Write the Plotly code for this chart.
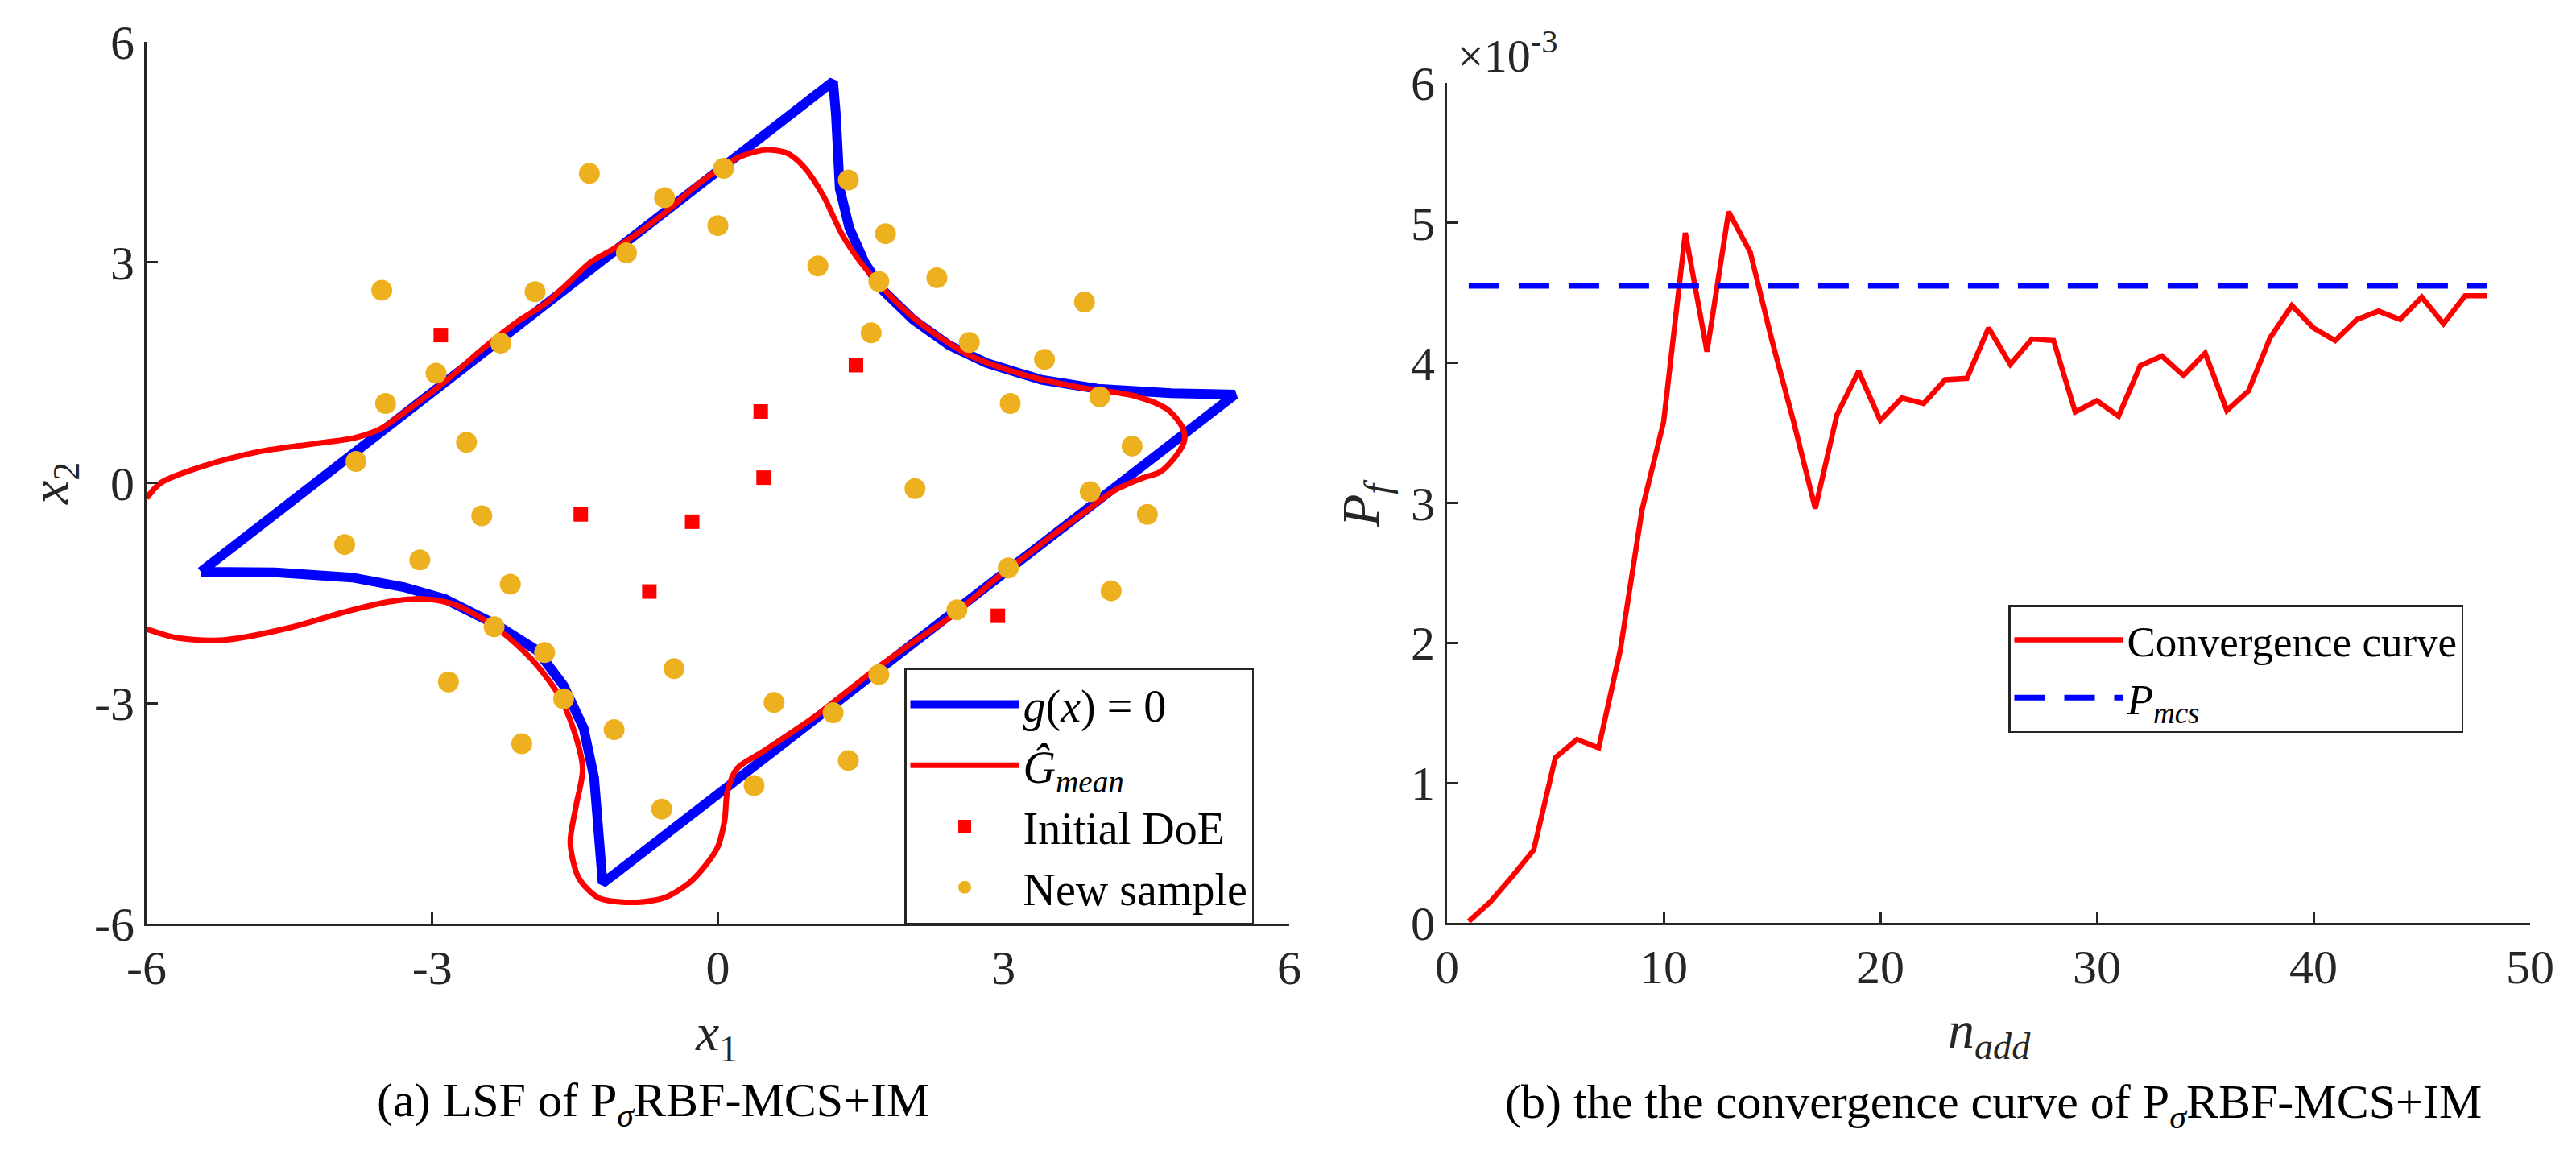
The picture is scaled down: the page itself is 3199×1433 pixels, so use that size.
import plotly.graph_objects as go

# ---------------- (a) LSF panel data ----------------
# true limit state g(x)=0 (closed contour)
g_x1 = [-5.43, 1.21, 1.24, 1.25, 1.28, 1.38, 1.54, 1.74, 2.05, 2.43, 2.82, 3.40, 3.99, 4.76, 5.43,
        -1.21, -1.25, -1.30, -1.41, -1.62, -1.90, -2.33, -2.87, -3.30, -3.84, -4.65, -5.43]
g_x2 = [-1.21, 5.46, 5.00, 4.50, 4.00, 3.47, 3.00, 2.61, 2.22, 1.87, 1.63, 1.40, 1.28, 1.22, 1.20,
        -5.45, -4.78, -4.01, -3.34, -2.76, -2.28, -1.93, -1.58, -1.42, -1.29, -1.22, -1.21]

# surrogate mean contour G_mean = 0
gm_x1 = [-6.00, -5.85, -5.42, -4.83, -4.25, -3.82, -3.55, -3.28, -2.89, -2.50, -2.12, -1.80, -1.53,
         -1.34, -1.02, -0.56, -0.25, 0.00, 0.22, 0.49, 0.72, 0.91, 1.11, 1.30, 1.50, 1.73, 2.08,
         2.62, 3.21, 3.79, 4.38, 4.72, 4.88, 4.90, 4.82, 4.65, 4.45, 4.17, 3.85, 3.55, 3.25, 3.00,
         2.46, 2.05, 1.67, 1.02, 0.47, 0.20, 0.10, 0.07, -0.01, -0.28, -0.55, -0.85, -1.25, -1.46,
         -1.55, -1.49, -1.42, -1.52, -1.68, -1.95, -2.33, -2.76, -3.09, -3.46, -3.95, -4.49, -5.19,
         -5.68, -6.00]
gm_x2 = [-0.21, 0.00, 0.22, 0.42, 0.53, 0.61, 0.73, 0.97, 1.35, 1.79, 2.18, 2.45, 2.77,
         3.00, 3.24, 3.67, 4.02, 4.26, 4.43, 4.53, 4.49, 4.29, 3.90, 3.39, 3.00, 2.65, 2.22,
         1.75, 1.47, 1.30, 1.18, 1.00, 0.75, 0.58, 0.38, 0.15, 0.06, -0.10, -0.40, -0.68, -0.98, -1.22,
         -1.81, -2.17, -2.52, -3.18, -3.66, -3.89, -4.20, -4.60, -4.98, -5.42, -5.64, -5.71, -5.65, -5.38,
         -4.90, -4.40, -3.89, -3.34, -2.87, -2.41, -1.97, -1.66, -1.58, -1.62, -1.77, -1.97, -2.14,
         -2.11, -1.99]

# initial design of experiments
doe_x1 = [-2.91, 1.45, 0.45, 0.48, -1.44, -0.27, -0.72, 2.94]
doe_x2 = [2.01, 1.60, 0.97, 0.07, -0.43, -0.53, -1.48, -1.81]

# adaptively added samples
new_x1 = [-1.35, -0.56, 0.06, 0.00, -0.96, -1.92, -3.53, -2.28, -2.96, -3.49, -2.64, -3.80,
          -2.48, -3.92, -3.13, -2.18, -2.35, -1.82, -2.83, -0.46, -1.62, 0.59, -1.09, -2.06,
          1.21, 1.37, 0.38, -0.59, 1.37, 1.76, 1.05, 1.69, 2.30, 1.61, 2.64, 3.85, 3.43, 3.07,
          4.01, 4.35, 2.07, 3.91, 4.51, 3.05, 4.13, 2.51, 1.69]
new_x2 = [4.21, 3.88, 4.28, 3.50, 3.13, 2.60, 2.62, 1.90, 1.49, 1.08, 0.55, 0.29,
          -0.45, -0.84, -1.05, -1.38, -1.96, -2.31, -2.71, -2.53, -2.94, -2.99, -3.36, -3.55,
          -3.13, -3.78, -4.12, -4.44, 4.12, 3.39, 2.95, 2.74, 2.79, 2.04, 1.91, 2.46, 1.68, 1.08,
          1.17, 0.50, -0.08, -0.12, -0.43, -1.16, -1.47, -1.73, -2.61]

ax_ticks_a = [-6, -3, 0, 3, 6]
ax_ticklabels_a = ["-6", "-3", "0", "3", "6"]

# ---------------- (b) convergence panel data ----------------
n_add = [1, 2, 3, 4, 5, 6, 7, 8, 9, 10, 11, 12, 13, 14, 15, 16, 17, 18, 19, 20, 21, 22, 23, 24,
         25, 26, 27, 28, 29, 30, 31, 32, 33, 34, 35, 36, 37, 38, 39, 40, 41, 42, 43, 44, 45, 46, 47, 48]
pf_e3 = [0.01, 0.15, 0.33, 0.52, 1.18, 1.31, 1.25, 1.95, 2.95, 3.58, 4.93, 4.08, 5.08, 4.79, 4.16, 3.58,
         2.96, 3.63, 3.94, 3.59, 3.75, 3.71, 3.88, 3.89, 4.25, 3.99, 4.17, 4.16, 3.65, 3.73, 3.62, 3.98,
         4.05, 3.91, 4.07, 3.66, 3.80, 4.18, 4.41, 4.25, 4.16, 4.31, 4.37, 4.31, 4.47, 4.28, 4.48, 4.48]
pmcs_x = [1, 48]
pmcs_e3 = [4.55, 4.55]

x_ticks_b = [0, 10, 20, 30, 40, 50]
y_ticks_b = [0, 1, 2, 3, 4, 5, 6]

# ---------------- styling ----------------
OFF = 8                      # default page body margin
W, H = 3199 - OFF, 1433 - OFF


def px(X):
    return (X - OFF) / W


def py(Y):
    return 1 - (Y - OFF) / H


SERIF = "Liberation Serif, Times New Roman, serif"
AX = "#262626"
BLUE = "#0000FF"
RED = "#FF0000"
ORANGE = "#EDB120"

fig = go.Figure()

fig.add_trace(go.Scatter(x=g_x1, y=g_x2, mode="lines", line=dict(color=BLUE, width=12),
                         name="<i>g</i>(<i>x</i>) = 0", xaxis="x", yaxis="y", legend="legend"))
fig.add_trace(go.Scatter(x=gm_x1, y=gm_x2, mode="lines", line=dict(color=RED, width=7, shape="spline", smoothing=0.8),
                         name="<i>Ĝ</i><sub><i>mean</i></sub>", xaxis="x", yaxis="y", legend="legend"))
fig.add_trace(go.Scatter(x=doe_x1, y=doe_x2, mode="markers",
                         marker=dict(symbol="square", size=18, color=RED, line=dict(width=0)),
                         name="Initial DoE", xaxis="x", yaxis="y", legend="legend"))
fig.add_trace(go.Scatter(x=new_x1, y=new_x2, mode="markers",
                         marker=dict(symbol="circle", size=26, color=ORANGE, line=dict(width=0)),
                         name="New sample", xaxis="x", yaxis="y", legend="legend"))

fig.add_trace(go.Scatter(x=n_add, y=pf_e3, mode="lines", line=dict(color=RED, width=6.5),
                         name="Convergence curve", xaxis="x2", yaxis="y2", legend="legend2"))
fig.add_trace(go.Scatter(x=pmcs_x, y=pmcs_e3, mode="lines", line=dict(color=BLUE, width=7, dash="38px,24px"),
                         name="<i>P</i><sub><i>mcs</i></sub>", xaxis="x2", yaxis="y2", legend="legend2"))

tickfont = dict(family=SERIF, size=60, color=AX)
common = dict(ticks="inside", ticklen=14, tickwidth=2.5, tickcolor=AX, showline=True, linecolor=AX,
              linewidth=3, showgrid=False, zeroline=False, mirror=False, tickfont=tickfont,
              automargin=False)

fig.update_layout(
    template="none",
    width=W, height=H, autosize=False,
    margin=dict(l=0, r=0, t=0, b=0, pad=0),
    paper_bgcolor="white", plot_bgcolor="white",
    font=dict(family=SERIF, size=60, color=AX),
    xaxis=dict(domain=[px(182), px(1601)], range=[-6, 6], tickvals=ax_ticks_a, ticktext=ax_ticklabels_a,
               anchor="y", **common),
    yaxis=dict(domain=[py(1147), py(52)], range=[-6, 6], tickvals=ax_ticks_a, ticktext=ax_ticklabels_a,
               anchor="x", **common),
    xaxis2=dict(domain=[px(1797), px(3142)], range=[0, 50], tickvals=x_ticks_b,
                ticktext=[str(v) for v in x_ticks_b], anchor="y2", **common),
    yaxis2=dict(domain=[py(1146), py(103)], range=[0, 6], tickvals=y_ticks_b,
                ticktext=[str(v) for v in y_ticks_b], anchor="x2", **common),
    legend=dict(x=px(1123), y=py(829), xanchor="left", yanchor="top", bgcolor="white",
                bordercolor=AX, borderwidth=2.5, itemwidth=135,
                font=dict(family=SERIF, size=56, color="black")),
    legend2=dict(x=px(2494), y=py(751), xanchor="left", yanchor="top", bgcolor="white",
                 bordercolor=AX, borderwidth=2.5, itemwidth=135,
                 font=dict(family=SERIF, size=53, color="black")),
    showlegend=True,
)

ann_font = dict(family=SERIF, size=66, color=AX)
cap_font = dict(family=SERIF, size=60, color="black")
fig.add_annotation(x=px(889), y=py(1286), xref="paper", yref="paper", text="<i>x</i><sub>1</sub>",
                   showarrow=False, font=ann_font, xanchor="center", yanchor="middle")
fig.add_annotation(x=px(66), y=py(601), xref="paper", yref="paper", text="<i>x</i><sub>2</sub>",
                   showarrow=False, font=ann_font, textangle=-90, xanchor="center", yanchor="middle")
fig.add_annotation(x=px(2470), y=py(1283), xref="paper", yref="paper", text="<i>n</i><sub><i>add</i></sub>",
                   showarrow=False, font=ann_font, xanchor="center", yanchor="middle")
fig.add_annotation(x=px(1695), y=py(625), xref="paper", yref="paper", text="<i>P</i><sub><i>f</i></sub>",
                   showarrow=False, font=ann_font, textangle=-90, xanchor="center", yanchor="middle")
fig.add_annotation(x=px(1872), y=py(66), xref="paper", yref="paper", text="×10<sup>-3</sup>",
                   showarrow=False, font=dict(family=SERIF, size=58, color=AX), xanchor="center", yanchor="middle")
fig.add_annotation(x=px(811), y=py(1370), xref="paper", yref="paper",
                   text="(a) LSF of P<sub><i>σ</i></sub>RBF-MCS+IM",
                   showarrow=False, font=cap_font, xanchor="center", yanchor="middle")
fig.add_annotation(x=px(2475), y=py(1372), xref="paper", yref="paper",
                   text="(b) the the convergence curve of P<sub><i>σ</i></sub>RBF-MCS+IM",
                   showarrow=False, font=cap_font, xanchor="center", yanchor="middle")

fig.write_html("out.html")
